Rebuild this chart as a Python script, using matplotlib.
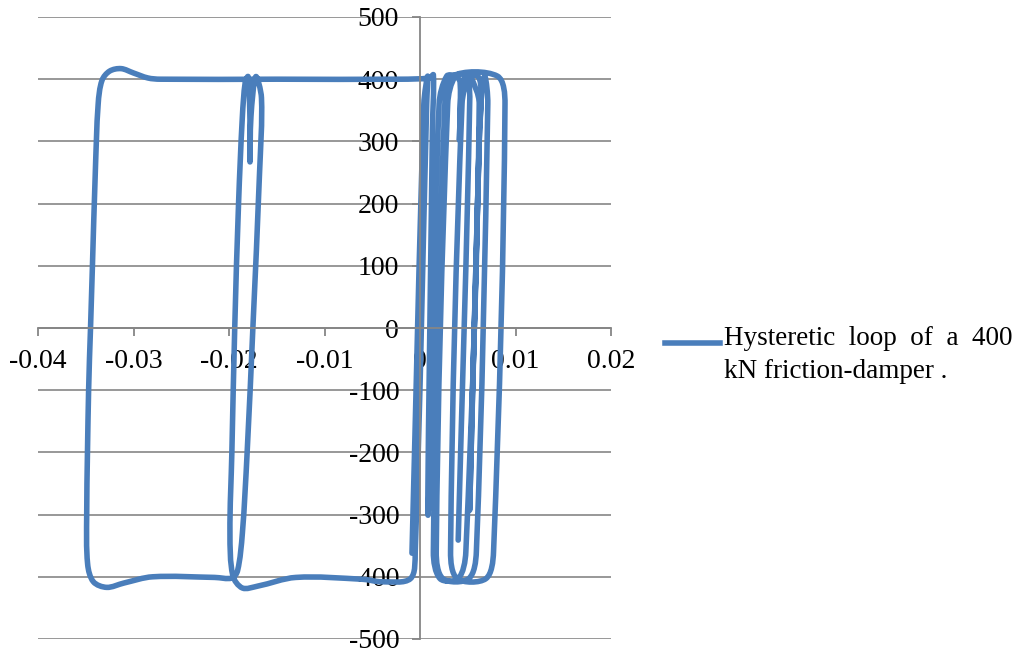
import numpy as np
import matplotlib
matplotlib.use("Agg")
import matplotlib.pyplot as plt
from matplotlib.path import Path
from matplotlib.patches import PathPatch
from matplotlib.lines import Line2D

# Damper displacement (m) and force (kN), in load-history order
disp = [
    # first loading and unloading near the origin
    -0.00084, 0.0004, 0.0008, 0.0007, -0.0005, -0.0010, -0.0040, -0.0060,
    -0.0130,
    # small loop around -0.018 m
    -0.0170, -0.0186, -0.0196, -0.0199, -0.0197, -0.0194, -0.0190, -0.0186,
    -0.0183, -0.0180, -0.0178, -0.0178, -0.0177, -0.0172, -0.0166, -0.0168,
    -0.0175, -0.0181, -0.0186, -0.0191, -0.0197,
    # large loop to -0.035 m
    -0.0215, -0.0280, -0.0310, -0.0328, -0.0342, -0.0348, -0.0349, -0.0347,
    -0.0345, -0.0343, -0.0340, -0.0337, -0.0333, -0.0325, -0.0313, -0.0300,
    -0.0285, -0.0272, -0.0150, -0.0020,
    # later cycles between 0 and 0.009 m
    0.0010, 0.0014, 0.0013, 0.00084, 0.0020, 0.0028,
    0.0037, 0.0042, 0.00413, 0.0044, 0.0050,
    0.0053, 0.0062, 0.0048, 0.0040,
    0.0021, 0.0014, 0.0026, 0.0034,
    0.0081, 0.0089, 0.0077, 0.0069,
    0.0039, 0.0032, 0.0044, 0.0052,
    0.0061, 0.0064, 0.0062, 0.0052, 0.0062, 0.0065, 0.0068, 0.0071,
    0.0059, 0.0051,
    0.0024, 0.0017, 0.0029, 0.0037,
    0.0049, 0.0052, 0.0040,
]
force = [
    -362, 360, 405, 360, -360, -403, -408, -404,
    -401,
    -415, -418, -398, -330, -200, 0, 200, 340,
    395, 404, 330, 267, 340, 404, 370, 250,
    0, -200, -330, -390, -402,
    -401, -400, -410, -417, -408, -380, -300, -100,
    0, 100, 250, 360, 398, 413, 417, 410,
    402, 400, 400, 400,
    402, 407, 320, -301, 360, 405,
    405, 395, 302, 395, 405,
    405, 360, -360, -403,
    -403, -360, 360, 405,
    405, 360, -360, -403,
    -403, -360, 360, 405,
    404, 380, 300, -293, 300, 385, 405, 360,
    -360, -403,
    -403, -360, 360, 405,
    405, 360, -341,
]

x_ticks = [-0.04, -0.03, -0.02, -0.01, 0.0, 0.01, 0.02]
x_tick_labels = ["-0.04", "-0.03", "-0.02", "-0.01", "0", "0.01", "0.02"]
y_ticks = [-500, -400, -300, -200, -100, 0, 100, 200, 300, 400, 500]
y_tick_labels = ["-500", "-400", "-300", "-200", "-100", "0",
                 "100", "200", "300", "400", "500"]
series_label = "Hysteretic  loop  of  a  400\nkN friction-damper ."

LINE_COLOR = "#4A7EBB"
GRID_COLOR = "#868686"
FONT = ["Liberation Serif", "DejaVu Serif"]

plt.rcParams["font.family"] = FONT

fig = plt.figure(figsize=(10.24, 6.57), dpi=100)
ax = fig.add_axes([38 / 1024, 18 / 657, 573 / 1024, 622 / 657])
ax.set_xlim(-0.04, 0.02)
ax.set_ylim(-500, 500)

# axes crossing at the origin
for side in ("top", "right"):
    ax.spines[side].set_visible(False)
ax.spines["left"].set_position(("data", 0))
ax.spines["bottom"].set_position(("data", 0))
for side in ("left", "bottom"):
    ax.spines[side].set_color(GRID_COLOR)
    ax.spines[side].set_linewidth(1.3)

ax.set_xticks(x_ticks)
ax.set_xticklabels(x_tick_labels)
ax.set_yticks(y_ticks)
ax.set_yticklabels(y_tick_labels)
ax.tick_params(axis="both", direction="out", length=6, width=1.3,
               color=GRID_COLOR, labelsize=20, labelcolor="black")
ax.tick_params(axis="x", pad=9)
ax.tick_params(axis="y", pad=9)
ax.yaxis.grid(True, color=GRID_COLOR, linewidth=1.2)
ax.xaxis.grid(False)
ax.set_axisbelow(True)
ax.patch.set_visible(False)

# smoothed curve: chord-weighted Catmull-Rom Bezier built in display space
pts = ax.transData.transform(np.column_stack([disp, force]))
padded = np.vstack([pts[0], pts, pts[-1]])
seg = np.linalg.norm(np.diff(padded, axis=0), axis=1)
verts = [pts[0]]
codes = [Path.MOVETO]
for i in range(len(pts) - 1):
    p0, p1, p2, p3 = padded[i], padded[i + 1], padded[i + 2], padded[i + 3]
    l0, l1, l2 = seg[i], seg[i + 1], seg[i + 2]
    w1 = l1 / max(l0 + l1, 1e-9)
    w2 = l1 / max(l1 + l2, 1e-9)
    c1 = p1 + (p2 - p0) * w1 / 3.0
    c2 = p2 - (p3 - p1) * w2 / 3.0
    verts += [c1, c2, p2]
    codes += [Path.CURVE4] * 3
verts = ax.transData.inverted().transform(np.array(verts))
curve = PathPatch(Path(verts, codes), facecolor="none", edgecolor=LINE_COLOR,
                  linewidth=4.0, capstyle="round", joinstyle="round", zorder=2)
ax.add_patch(curve)

# legend drawn at the right of the plot
fig.add_artist(Line2D([665 / 1024, 720 / 1024], [1 - 343 / 657, 1 - 343 / 657],
                      transform=fig.transFigure, color=LINE_COLOR, linewidth=4.0))
fig.text(724 / 1024, 1 - 326 / 657, series_label, fontsize=19.5,
         va="top", ha="left", linespacing=1.42, transform=fig.transFigure)

fig.savefig("out.png", dpi=100)
